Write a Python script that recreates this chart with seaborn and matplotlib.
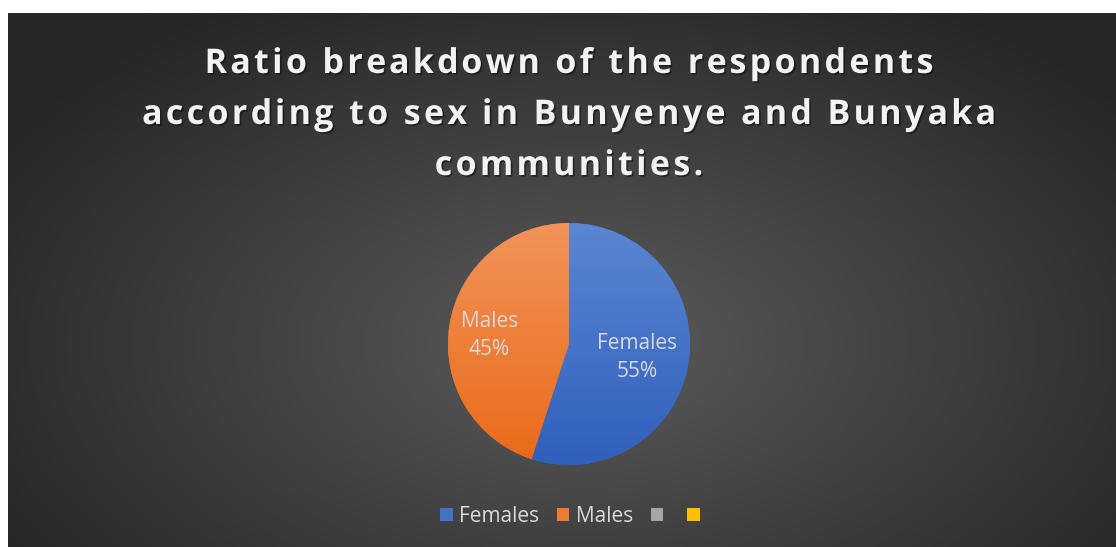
import numpy as np
import matplotlib
matplotlib.use("Agg")
import matplotlib.pyplot as plt
import matplotlib.patheffects as pe
from matplotlib.patches import Patch
from matplotlib.colors import LinearSegmentedColormap
import seaborn as sns

# ---- data ----
categories = ["Females", "Males"]
values = [55, 45]
legend_labels = ["Females", "Males", "", ""]
title_lines = ["Ratio breakdown of the respondents",
               "according to sex in Bunyenye and Bunyaka",
               "communities."]

# ---- style ----
sns.set_style("white")
plt.rcParams['font.family'] = ['Open Sans', 'DejaVu Sans']

palette = sns.color_palette(["#4472C4", "#ED7D31", "#A5A5A5", "#FFC000"])
grad_top = ["#5b86d3", "#f2935a"]
grad_bot = ["#2f60bb", "#ea6a18"]

W, H = 1116, 547
fig = plt.figure(figsize=(W / 100, H / 100), dpi=100, facecolor="white")
renderer = fig.canvas.get_renderer()

# background radial gradient (dark chart area)
left_px, top_px = 8, 13
bg = fig.add_axes([left_px / W, 0, 1 - left_px / W, 1 - top_px / H])
bg.set_axis_off()
nx, ny = 400, 200
xx, yy = np.meshgrid(np.linspace(0, 1, nx), np.linspace(0, 1, ny))
cx, cy = 0.52, 0.62
d = np.sqrt(((xx - cx) / 0.62) ** 2 + ((yy - cy) / 0.75) ** 2)
d = np.clip(d, 0, 1)
bg_cmap = LinearSegmentedColormap.from_list("bg", ["#5b5b5b", "#262626"])
bg.imshow(d, cmap=bg_cmap, vmin=0, vmax=1, extent=[0, 1, 0, 1],
          origin="upper", aspect="auto", interpolation="bilinear")
bg.set_xlim(0, 1)
bg.set_ylim(0, 1)

# title with letter spacing (tracking)
title_kw = dict(fontsize=24.5, fontweight="bold", color="#f2f2f2")
shadow = [pe.SimplePatchShadow(offset=(1.2, -1.2), shadow_rgbFace="black", alpha=0.45),
          pe.Normal()]
tracking = 3.35  # px between letters
baselines = [73, 124, 175]
cx_title = 569


def text_w(s):
    t = fig.text(0, 0, s + "|", **title_kw)
    w = t.get_window_extent(renderer).width
    t.remove()
    t2 = fig.text(0, 0, "|", **title_kw)
    w2 = t2.get_window_extent(renderer).width
    t2.remove()
    return w - w2


for line, yb in zip(title_lines, baselines):
    total = text_w(line) + tracking * (len(line) - 1)
    x0 = cx_title - total / 2
    for i, ch in enumerate(line):
        if ch == " ":
            continue
        xi = x0 + (text_w(line[:i]) if i > 0 else 0) + tracking * i
        fig.text(xi / W, 1 - yb / H, ch, ha="left", va="baseline",
                 path_effects=shadow, **title_kw)

# pie
cxp, cyp, r = 569, H - 344, 121
ax = fig.add_axes([(cxp - r) / W, (cyp - r) / H, 2 * r / W, 2 * r / H])
labels = [f"{c}\n{v}%" for c, v in zip(categories, values)]
wedges, texts = ax.pie(values, labels=labels, colors=palette[:2],
                       startangle=90, counterclock=False,
                       labeldistance=0.57,
                       textprops=dict(color="#d9d9d9", fontsize=15,
                                      ha="center", va="center", linespacing=1.45),
                       wedgeprops=dict(linewidth=0))
ax.set_xlim(-1, 1)
ax.set_ylim(-1, 1)
ax.set_axis_off()

# vertical gradient fills clipped to wedges
g = np.linspace(0, 1, 256).reshape(-1, 1)
for i, w in enumerate(wedges):
    cmap = LinearSegmentedColormap.from_list(f"w{i}", [grad_top[i], grad_bot[i]])
    im = ax.imshow(g, cmap=cmap, extent=[-1, 1, -1, 1], origin="upper",
                   aspect="auto", zorder=w.get_zorder() + 0.1, interpolation="bilinear")
    im.set_clip_path(w)
for t in texts:
    t.set_zorder(5)
# label placement tweaks to match the reference
px, py = texts[0].get_position()
texts[0].set_position((px, py - 0.025))
px, py = texts[1].get_position()
texts[1].set_position((px * 1.17, py * 1.2 - 0.035))

# legend
handles = [Patch(facecolor=c, edgecolor="none") for c in palette]
leg = fig.legend(handles, legend_labels, loc="center", ncol=4,
                 bbox_to_anchor=(573 / W, 1 - 516 / H), frameon=False,
                 fontsize=15, labelcolor="#d9d9d9",
                 handlelength=0.6, handleheight=0.6, handletextpad=0.3,
                 columnspacing=0.85)

fig.savefig("out.png", dpi=100, facecolor="white")
